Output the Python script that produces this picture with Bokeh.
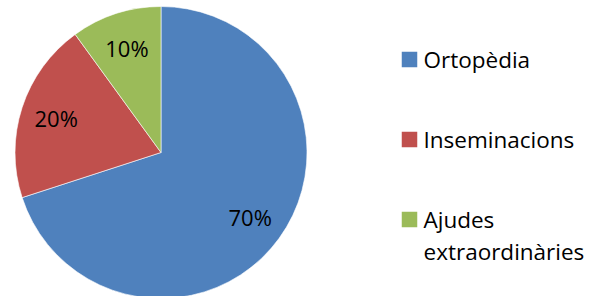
import math
from bokeh.plotting import figure
from bokeh.models import Range1d, ColumnDataSource
from bokeh.core.properties import value
from bokeh.embed import file_html
from bokeh.resources import INLINE

# ---- data ----
categories = ["Ortopèdia", "Inseminacions", "Ajudes\nextraordinàries"]
shares = [70, 20, 10]
pct_labels = ["70%", "20%", "10%"]
colors = ["#4F81BD", "#C0504D", "#9BBB59"]

W, H = 595, 296
FONT = "Open Sans"

p = figure(width=W, height=H, output_backend="svg", toolbar_location=None,
           x_range=Range1d(0, W), y_range=Range1d(0, H),
           x_axis_type=None, y_axis_type=None, min_border=0)
p.outline_line_color = None
p.xgrid.visible = False
p.ygrid.visible = False
p.background_fill_color = "white"

def py(y):  # image y (down) -> plot y (up)
    return H - y

cx, cy, r = 160.5, py(152), 146

total = sum(shares)
starts, ends, lx, ly = [], [], [], []
a = math.pi / 2
for s in shares:
    sweep = 2 * math.pi * s / total
    starts.append(a)
    ends.append(a - sweep)
    mid = a - sweep / 2
    lx.append(cx + 0.755 * r * math.cos(mid))
    ly.append(cy + 0.755 * r * math.sin(mid))
    a -= sweep

src = ColumnDataSource(dict(start=starts, end=ends, color=colors,
                            lx=lx, ly=ly, lab=pct_labels))
p.wedge(x=cx, y=cy, radius=r, radius_units="screen", start_angle="start",
        end_angle="end", direction="clock", fill_color="color",
        line_color="white", line_width=0.6, source=src)
p.text(x="lx", y="ly", text="lab", source=src, text_align="center",
       text_baseline="middle", text_font=value(FONT), text_font_size="22px",
       text_color="black")

# ---- legend ----
mid_y = [59, 139, 219]
line_h = 32
sq_src = ColumnDataSource(dict(x=[409] * 3, y=[py(m) for m in mid_y],
                               color=colors))
p.rect(x="x", y="y", width=15.5, height=15.5, width_units="screen",
       height_units="screen", fill_color="color", line_color=None, source=sq_src)

tx, ty, tt = [], [], []
for m, cat in zip(mid_y, categories):
    for i, line in enumerate(cat.split("\n")):
        tx.append(423)
        ty.append(py(m + i * line_h))
        tt.append(line)
p.text(x=tx, y=ty, text=tt, text_align="left", text_baseline="middle",
       text_font=value(FONT), text_font_size="22.5px", text_color="black")

open("out.html", "w").write(file_html(p, INLINE))
